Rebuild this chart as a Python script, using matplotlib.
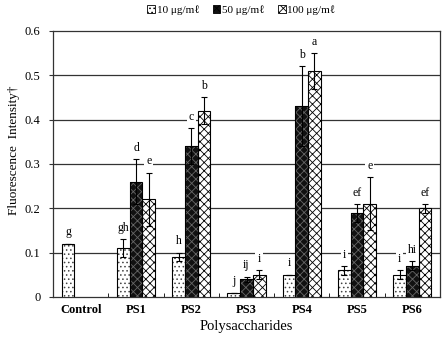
import matplotlib.pyplot as plt
import numpy as np
from matplotlib.patches import Patch

# dados
grupos = ["Control", "PS1", "PS2", "PS3", "PS4", "PS5", "PS6"]
conc_10 = [0.12, 0.11, 0.09, 0.01, 0.05, 0.06, 0.05]
conc_50 = [np.nan, 0.26, 0.34, 0.04, 0.43, 0.19, 0.07]
conc_100 = [np.nan, 0.22, 0.42, 0.05, 0.51, 0.21, 0.20]
erro_10 = [0.0, 0.02, 0.01, 0.0, 0.0, 0.01, 0.01]
erro_50 = [0.0, 0.05, 0.04, 0.006, 0.09, 0.02, 0.01]
erro_100 = [0.0, 0.06, 0.03, 0.01, 0.04, 0.06, 0.01]
letras_10 = ["g", "gh", "h", "j", "i", "i", "i"]
letras_50 = ["", "d", "c", "ij", "b", "ef", "hi"]
letras_100 = ["", "e", "b", "i", "a", "e", "ef"]
legendas = ["10 \u03bcg/m\u2113", "50 \u03bcg/m\u2113", "100 \u03bcg/m\u2113"]

fonte = ["Liberation Serif", "DejaVu Serif"]
plt.rcParams["font.family"] = fonte
plt.rcParams["hatch.linewidth"] = 0.6

fig = plt.figure(figsize=(4.43, 3.39), dpi=100)
ax = fig.add_axes([0.120, 0.124, 0.873, 0.785])

x = np.arange(len(grupos))
w = 0.23

estilos = [
    dict(color="white", hatch="....", hc="#444444"),
    dict(color="#111111", hatch="xxxx", hc="#666666"),
    dict(color="white", hatch="xxxx", hc="black"),
]
series = [conc_10, conc_50, conc_100]
erros = [erro_10, erro_50, erro_100]
letras = [letras_10, letras_50, letras_100]

for k in range(3):
    pos = x + (k - 1) * w
    est = estilos[k]
    # preenchimento com hachura
    ax.bar(pos, series[k], w, color=est["color"], hatch=est["hatch"],
           edgecolor=est["hc"], linewidth=0, zorder=3)
    # contorno preto
    ax.bar(pos, series[k], w, fill=False, edgecolor="black", linewidth=0.8, zorder=4)
    ax.errorbar(pos, series[k], yerr=erros[k], fmt="none", ecolor="black",
                elinewidth=0.8, capsize=2.5, capthick=0.8, zorder=5)
    for xi, v, e, t in zip(pos, series[k], erros[k], letras[k]):
        if not t or np.isnan(v):
            continue
        # caixa branca só para abrir a grade (fica atrás das barras)
        ax.text(xi, v + e + 0.012, t, ha="center", va="bottom", fontsize=8.5,
                color="white", bbox=dict(facecolor="white", edgecolor="none", pad=1.5),
                zorder=2)
        # a letra por cima de tudo
        ax.text(xi, v + e + 0.012, t, ha="center", va="bottom", fontsize=8.5, zorder=6)

# linhas de grade
for g in [0.1, 0.2, 0.3, 0.4, 0.5]:
    ax.axhline(g, color="#333333", linewidth=0.9, zorder=1)

ax.set_xlim(-0.5, len(grupos) - 0.5)
ax.set_ylim(0, 0.6)
ax.set_yticks([0, 0.1, 0.2, 0.3, 0.4, 0.5, 0.6])
ax.set_yticklabels(["0", "0.1", "0.2", "0.3", "0.4", "0.5", "0.6"], fontsize=9)
ax.set_xticks(x)
ax.set_xticklabels(grupos, fontsize=9, fontweight="bold")
ax.set_xticks(np.arange(0.5, len(grupos) - 1, 1), minor=True)
ax.tick_params(axis="x", which="major", length=0, pad=5)
ax.tick_params(axis="x", which="minor", length=3, direction="in")
ax.tick_params(axis="y", length=3, direction="out", pad=6, color="#333333")

for spine in ax.spines.values():
    spine.set_color("#333333")
    spine.set_linewidth(0.9)

ax.set_xlabel("Polysaccharides", fontsize=10.5, labelpad=3)
ax.set_ylabel("Fluorescence  Intensity\u2020", fontsize=9.5)
ax.yaxis.set_label_coords(-0.085, 0.553)

alcas = [Patch(facecolor=estilos[k]["color"], hatch=estilos[k]["hatch"],
               edgecolor="black", linewidth=0.6) for k in range(3)]
fig.legend(alcas, legendas, loc="upper center", bbox_to_anchor=(0.545, 1.015),
           ncol=3, frameon=False, fontsize=8, handlelength=0.7, handleheight=0.7,
           handletextpad=0.15, columnspacing=1.2)

plt.savefig("out.png", dpi=100)
plt.close(fig)
